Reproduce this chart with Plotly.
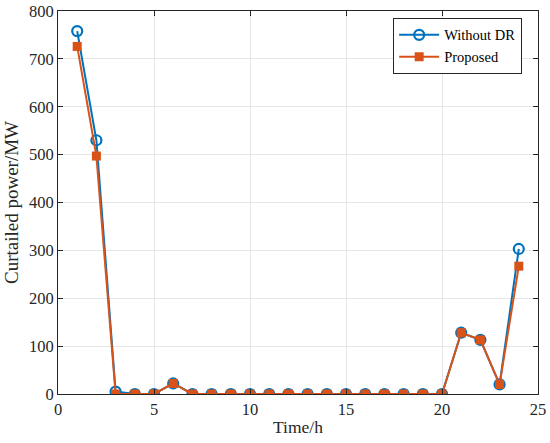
import plotly.graph_objects as go

hours = list(range(1, 25))
without_dr = [758, 530, 5, 0, 0, 22, 0, 0, 0, 0, 0, 0, 0, 0, 0, 0, 0, 0, 0, 0, 128, 113, 20, 303]
proposed = [726, 497, 0, 0, 0, 22, 0, 0, 0, 0, 0, 0, 0, 0, 0, 0, 0, 0, 0, 0, 128, 113, 20, 267]

serif = "Liberation Serif, Times New Roman, serif"

fig = go.Figure()
fig.add_trace(go.Scatter(
    x=hours, y=without_dr, name="Without DR", mode="lines+markers",
    line=dict(color="#0072BD", width=2),
    marker=dict(symbol="circle-open", size=10, color="#0072BD", line=dict(width=2.2)),
))
fig.add_trace(go.Scatter(
    x=hours, y=proposed, name="Proposed", mode="lines+markers",
    line=dict(color="#D95319", width=2),
    marker=dict(symbol="square", size=9, color="#D95319"),
))

axis_style = dict(
    showline=True, linecolor="#262626", linewidth=1, mirror="ticks",
    ticks="inside", ticklen=5, tickcolor="#262626",
    showgrid=True, gridcolor="#E6E6E6", gridwidth=1, zeroline=False,
    tickfont=dict(family=serif, size=16.5, color="#262626"),
    automargin=False,
)
fig.update_xaxes(range=[0, 25], dtick=5, title=dict(text="Time/h", standoff=2,
                 font=dict(family=serif, size=17.5, color="#262626")), **axis_style)
fig.update_yaxes(range=[0, 800], dtick=100, title=dict(text="Curtailed power/MW", standoff=5,
                 font=dict(family=serif, size=19, color="#262626")), **axis_style)

fig.update_layout(
    width=550, height=443,
    margin=dict(l=58, r=12, t=11, b=49),
    plot_bgcolor="white", paper_bgcolor="white",
    font=dict(family=serif),
    legend=dict(
        x=0.967, y=0.982, xanchor="right", yanchor="top",
        bgcolor="white", bordercolor="#262626", borderwidth=1,
        font=dict(family=serif, size=14.5, color="black"),
        tracegroupgap=0, itemwidth=40,
    ),
)

# drop the default body margin so the figure sits at the page corner
fig.write_html("out.html", config={"displayModeBar": False},
               post_script="document.body.style.margin = '0';")
